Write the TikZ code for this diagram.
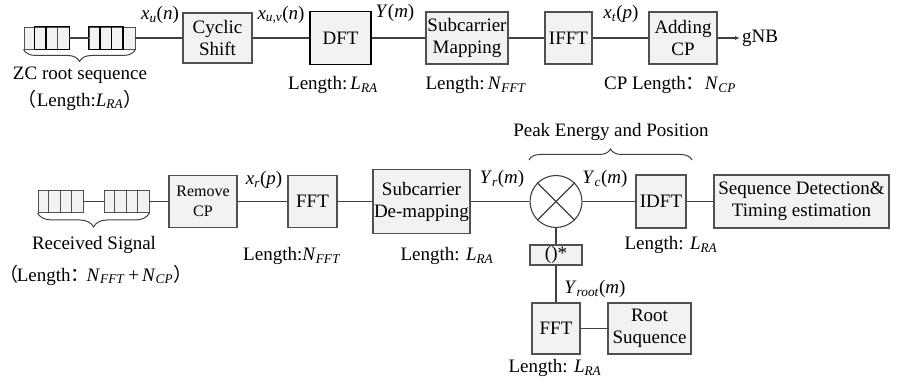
\documentclass[tikz,border=0pt]{standalone}
\usepackage{fontspec}
\setmainfont{Liberation Serif}
\newfontfamily\cjk{Noto Sans CJK SC}
\usetikzlibrary{decorations.pathreplacing,arrows.meta}
\definecolor{boxfill}{HTML}{F2F2F2}
\definecolor{boxline}{HTML}{505050}
\definecolor{wirec}{HTML}{404040}
% italic variable with italic subscript
\newcommand{\vr}[2]{\textit{#1}\textsubscript{\textit{#2}}}
\begin{document}
\begin{tikzpicture}[x=1pt,y=-1pt,
  font=\fontsize{19}{22}\selectfont,
  blk/.style={draw=boxline,fill=boxfill,line width=1.1pt,align=center,inner sep=0pt},
  wire/.style={draw=wirec,line width=1.1pt},
  lbl/.style={inner sep=0pt,align=center},
  reg/.style={draw=boxline,fill=boxfill,line width=0.9pt,minimum height=22pt,inner sep=0pt},
  cell/.style={draw=boxline,line width=0.9pt},
  darkcell/.style={draw=black,line width=1.3pt},
  brc/.style={draw=wirec,line width=1pt,decorate},
]
\useasboundingbox (0,0) rectangle (897,387);

% ---------------- transmitter chain ----------------
\node[reg,minimum width=45pt] (regA) at (46.5,38) {};
\node[reg,minimum width=46pt] (regB) at (112,38) {};
\foreach \k in {1,2,3}{
  \draw[cell] ([xshift=\k*11.25pt]regA.north west) -- ([xshift=\k*11.25pt]regA.south west);
  \draw[cell] ([xshift=\k*11.5pt]regB.north west) -- ([xshift=\k*11.5pt]regB.south west);
}
\draw[darkcell] ([xshift=11.25pt]regA.north west) rectangle (regA.south east);
\foreach \k in {1,2}{
  \draw[darkcell] ([xshift=\k*11.25pt]regA.north west) -- ([xshift=\k*11.25pt]regA.south west);
  \draw[darkcell] ([xshift=\k*11.5pt]regB.north west) -- ([xshift=\k*11.5pt]regB.south west);
}
\draw[darkcell] (regB.north west) rectangle ([xshift=34.5pt]regB.south west);

\node[blk,minimum width=69pt,minimum height=50pt] (cyc) at (217.5,38) {Cyclic\\Shift};
\node[blk,draw=black,line width=1.4pt,minimum width=61pt,minimum height=53pt] (dft) at (340.5,38) {DFT};
\node[blk,minimum width=82pt,minimum height=52pt] (scm) at (467,38) {Subcarrier\\Mapping};
\node[blk,minimum width=47pt,minimum height=52pt] (ifft) at (568.5,38) {IFFT};
\node[blk,minimum width=68pt,minimum height=52pt] (addcp) at (683,38) {Adding\\CP};
\node[lbl,anchor=west,inner sep=2pt] (gnb) at (740,38) {gNB};

\draw[wire] (regA.east) -- (regB.west);
\draw[wire] (regB.east) -- (cyc.west);
\draw[wire] (cyc.east) -- (dft.west);
\draw[wire] (dft.east) -- (scm.west);
\draw[wire] (scm.east) -- (ifft.west);
\draw[wire] (ifft.east) -- (addcp.west);
\draw[wire,-{Latex[length=5pt,width=4pt]}] (addcp.east) -- (gnb.west);

\node[lbl] (lxu) at (160,15) {\vr{x}{u}(\textit{n})};
\node[lbl] (lxuv) at (281,15) {\vr{x}{u,v}(\textit{n})};
\node[lbl] (lY) at (395,13) {\textit{Y}(\textit{m})};
\node[lbl] (lxt) at (621,14) {\vr{x}{t}(\textit{p})};

\draw[brc,decoration={brace,mirror,amplitude=12pt}] (regA.south west) -- (regB.south east);
\node[lbl] (zc) at (80,75) {ZC root sequence};
\node[lbl] (zclen) at (80,100) {{\cjk （}Length:\vr{L}{RA}{\cjk ）}};

\node[lbl] (dftlen) at (333,85) {Length:\,\vr{L}{RA}};
\node[lbl] (scmlen) at (476,85) {Length:\,\vr{N}{FFT}};
\node[lbl] (cplen) at (670,85) {CP Length{\cjk ：}\vr{N}{CP}};

% ---------------- receiver chain ----------------
\node[reg,minimum width=45pt] (regC) at (60.5,201.5) {};
\node[reg,minimum width=45pt] (regD) at (126.5,201.5) {};
\foreach \k in {1,2,3}{
  \draw[cell] ([xshift=\k*11.25pt]regC.north west) -- ([xshift=\k*11.25pt]regC.south west);
  \draw[cell] ([xshift=\k*11.25pt]regD.north west) -- ([xshift=\k*11.25pt]regD.south west);
}

\node[blk,font=\fontsize{16}{20}\selectfont,minimum width=68pt,minimum height=52pt] (rmcp) at (203,201.5) {Remove\\CP};
\node[blk,minimum width=49pt,minimum height=52pt] (fft1) at (312.5,201.5) {FFT};
\node[blk,minimum width=97pt,minimum height=64pt] (sdm) at (421.5,201.5) {Subcarrier\\De-mapping};
\node[draw=wirec,line width=1.1pt,circle,minimum size=52pt,inner sep=0pt] (mult) at (556,201.5) {};
\draw[wire] (mult.north west) -- (mult.south east);
\draw[wire] (mult.north east) -- (mult.south west);
\node[blk,minimum width=50pt,minimum height=53pt] (idft) at (661,201.5) {IDFT};
\node[blk,minimum width=175pt,minimum height=53pt] (seq) at (801.5,201.5) {Sequence Detection\&\\Timing estimation};
\node[blk,minimum width=52pt,minimum height=20pt] (conj) at (556,255) {()*};
\node[blk,minimum width=48pt,minimum height=51pt] (fft2) at (556,328.5) {FFT};
\node[blk,minimum width=83pt,minimum height=51pt] (root) at (649.5,328.5) {Root\\Suquence};

\draw[wire] (regC.east) -- (regD.west);
\draw[wire] (regD.east) -- (rmcp.west);
\draw[wire] (rmcp.east) -- (fft1.west);
\draw[wire] (fft1.east) -- (sdm.west);
\draw[wire] (sdm.east) -- (mult.west);
\draw[wire] (mult.east) -- (idft.west);
\draw[wire] (idft.east) -- (seq.west);
\draw[wire] (mult.south) -- (conj.north);
\draw[wire] (conj.south) -- (fft2.north);
\draw[wire] (fft2.east) -- (root.west);

\node[lbl] (lxr) at (264,180) {\vr{x}{r}(\textit{p})};
\node[lbl] (lYr) at (502,179) {\vr{Y}{r}(\textit{m})};
\node[lbl] (lYc) at (605,179) {\vr{Y}{c}(\textit{m})};
\node[lbl] (lYroot) at (595,289) {\vr{Y}{root}(\textit{m})};

\draw[brc,decoration={brace,mirror,amplitude=14pt}] (regC.south west) -- (regD.south east);
\node[lbl] (rs) at (94,245) {Received Signal};
\node[lbl] (rslen) at (96,275) {{\cjk （}\kern-2pt Length{\cjk ：}\kern-3pt\vr{N}{FFT}\,+\,\vr{N}{CP}{\cjk ）}};

\node[lbl] (fft1len) at (292,256) {Length:\vr{N}{FFT}};
\node[lbl] (sdmlen) at (447,256) {Length: \vr{L}{RA}};
\node[lbl] (idftlen) at (671,245) {Length: \vr{L}{RA}};
\node[lbl] (fft2len) at (555,368) {Length: \vr{L}{RA}};

\coordinate (pkL) at (529,160);
\coordinate (pkR) at (692,160);
\draw[brc,decoration={brace,amplitude=11pt}] (pkL) -- (pkR);
\node[lbl] (peak) at (611,132) {Peak Energy and Position};
\end{tikzpicture}
\end{document}
